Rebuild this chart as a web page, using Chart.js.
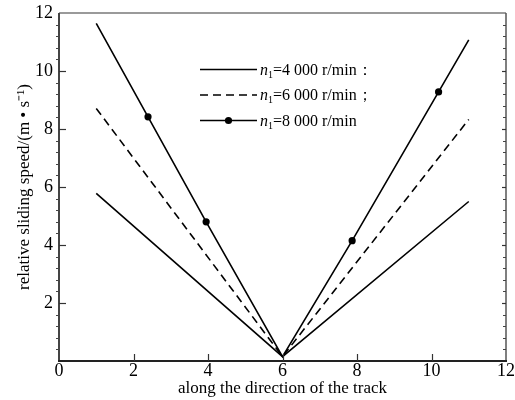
<!DOCTYPE html>
<html><head><meta charset="utf-8">
<script src="https://cdn.jsdelivr.net/npm/chart.js@4/dist/chart.umd.min.js"></script>
<style>html,body{margin:0;padding:0;background:#fff}#wrap{width:515px;height:400px}</style>
</head><body><div id="wrap"><canvas id="c" width="515" height="400"></canvas></div>
<script>
// ---- data ----
const xTicks = [0, 2, 4, 6, 8, 10, 12];
const yTicks = [2, 4, 6, 8, 10, 12];
const x4000 = [1, 6, 11];
const y4000 = [5.78, 0.15, 5.5];
const x6000 = [1, 6, 11];
const y6000 = [8.71, 0.15, 8.33];
const x8000 = [1, 2.39, 3.95, 6, 7.87, 10.19, 11];
const y8000 = [11.64, 8.42, 4.8, 0.15, 4.15, 9.28, 11.07];
const marked8000 = [false, true, true, false, true, true, false];
const seriesNames = ['=4 000 r/min：', '=6 000 r/min；', '=8 000 r/min'];
const xTitle = 'along the direction of the track';
const yTitle = 'relative sliding speed/(m • s⁻¹)';

const SERIF = '"Liberation Serif", "Times New Roman", serif';
const pts = (xs, ys) => xs.map((x, i) => ({x: x, y: ys[i]}));

const framePlugin = {
  id: 'frame',
  afterDatasetsDraw(chart) {
    const ctx = chart.ctx, a = chart.chartArea;
    const xs = chart.scales.x, ys = chart.scales.y;
    ctx.save();
    ctx.strokeStyle = '#9a9a9a'; ctx.lineWidth = 2;
    ctx.beginPath(); ctx.moveTo(a.left, a.top); ctx.lineTo(a.right, a.top); ctx.stroke();
    ctx.strokeStyle = '#555'; ctx.lineWidth = 1.5;
    ctx.beginPath(); ctx.moveTo(a.right, a.top); ctx.lineTo(a.right, a.bottom); ctx.stroke();
    ctx.strokeStyle = '#444'; ctx.lineWidth = 2;
    ctx.beginPath(); ctx.moveTo(a.left, a.top); ctx.lineTo(a.left, a.bottom); ctx.stroke();
    ctx.strokeStyle = '#222'; ctx.lineWidth = 2;
    ctx.beginPath(); ctx.moveTo(a.left - 1, a.bottom); ctx.lineTo(a.right + 1, a.bottom); ctx.stroke();
    ctx.strokeStyle = '#444'; ctx.lineWidth = 1;
    for (let k = 1; k < 30; k++) {
      const v = k * 0.4;
      if (Math.abs(v / 2 - Math.round(v / 2)) < 1e-6) continue;
      const py = Math.round(ys.getPixelForValue(v)) + 0.5;
      ctx.beginPath(); ctx.moveTo(a.left - 3, py); ctx.lineTo(a.left, py); ctx.stroke();
      ctx.beginPath(); ctx.moveTo(a.right - 3, py); ctx.lineTo(a.right, py); ctx.stroke();
    }
    ctx.strokeStyle = '#333'; ctx.lineWidth = 1.2;
    yTicks.forEach(v => {
      if (v >= 12) return;
      const py = Math.round(ys.getPixelForValue(v)) + 0.5;
      ctx.beginPath(); ctx.moveTo(a.left, py); ctx.lineTo(a.left + 7, py); ctx.stroke();
      ctx.beginPath(); ctx.moveTo(a.right - 4, py); ctx.lineTo(a.right, py); ctx.stroke();
    });
    xTicks.forEach(v => {
      if (v <= 0 || v >= 12) return;
      const px = Math.round(xs.getPixelForValue(v)) + 0.5;
      ctx.beginPath(); ctx.moveTo(px, a.bottom); ctx.lineTo(px, a.bottom - 7); ctx.stroke();
    });
    ctx.restore();
  }
};

const legendPlugin = {
  id: 'customLegend',
  afterDraw(chart) {
    const ctx = chart.ctx;
    const rows = [69.5, 95, 120.5];
    const x0 = 200, x1 = 257, tx = 260;
    ctx.save();
    chart.data.datasets.forEach((ds, i) => {
      const y = rows[i];
      ctx.strokeStyle = ds.borderColor; ctx.lineWidth = ds.borderWidth;
      ctx.setLineDash(ds.borderDash || []);
      ctx.beginPath(); ctx.moveTo(x0, y); ctx.lineTo(x1, y); ctx.stroke();
      ctx.setLineDash([]);
      if (i === 2) {
        ctx.fillStyle = '#000';
        ctx.beginPath(); ctx.arc((x0 + x1) / 2, y, 3.6, 0, Math.PI * 2); ctx.fill();
      }
      ctx.fillStyle = '#000';
      ctx.textBaseline = 'alphabetic'; ctx.textAlign = 'left';
      const base = y + 5;
      ctx.font = 'italic 16px ' + SERIF;
      ctx.fillText('n', tx, base);
      let x = tx + ctx.measureText('n').width;
      ctx.font = '10px ' + SERIF;
      ctx.fillText('1', x, base + 3);
      x += ctx.measureText('1').width;
      ctx.font = '16px ' + SERIF;
      ctx.fillText(seriesNames[i], x, base);
    });
    ctx.restore();
  }
};

new Chart(document.getElementById('c'), {
  type: 'line',
  data: {
    datasets: [
      { label: 'n1' + seriesNames[0], data: pts(x4000, y4000), borderColor: '#000', borderWidth: 1.6,
        pointRadius: 0, fill: false, tension: 0 },
      { label: 'n1' + seriesNames[1], data: pts(x6000, y6000), borderColor: '#000', borderWidth: 1.6,
        borderDash: [8, 5], pointRadius: 0, fill: false, tension: 0 },
      { label: 'n1' + seriesNames[2], data: pts(x8000, y8000), borderColor: '#000', borderWidth: 1.6,
        pointRadius: marked8000.map(m => m ? 3.6 : 0), pointBackgroundColor: '#000', pointBorderWidth: 0,
        fill: false, tension: 0 }
    ]
  },
  options: {
    responsive: false, animation: false, devicePixelRatio: 1,
    layout: { padding: { left: 0, top: 13, right: 9, bottom: 0 } },
    plugins: { legend: { display: false }, tooltip: { enabled: false } },
    scales: {
      x: {
        type: 'linear', min: 0, max: 12,
        afterBuildTicks: s => { s.ticks = xTicks.map(v => ({value: v})); },
        grid: { display: false, drawTicks: false }, border: { display: false },
        ticks: { color: '#000', font: { family: SERIF, size: 18 }, padding: -1, maxRotation: 0, autoSkip: false },
        title: { display: true, text: xTitle, color: '#000', font: { family: SERIF, size: 17 },
                 padding: { top: 0, bottom: 1 } },
        afterFit: s => { s.height = 39; s.paddingLeft = 0; s.paddingRight = 0; }
      },
      y: {
        type: 'linear', min: 0, max: 12,
        afterBuildTicks: s => { s.ticks = yTicks.map(v => ({value: v})); },
        grid: { display: false, drawTicks: false }, border: { display: false },
        ticks: { color: '#000', font: { family: SERIF, size: 18 }, padding: 6 },
        title: { display: true, text: yTitle, color: '#000', font: { family: SERIF, size: 17 },
                 padding: { top: 14, bottom: 0 } },
        afterFit: s => { s.width = 59; s.paddingTop = 0; s.paddingBottom = 0; }
      }
    }
  },
  plugins: [framePlugin, legendPlugin]
});
</script></body></html>
